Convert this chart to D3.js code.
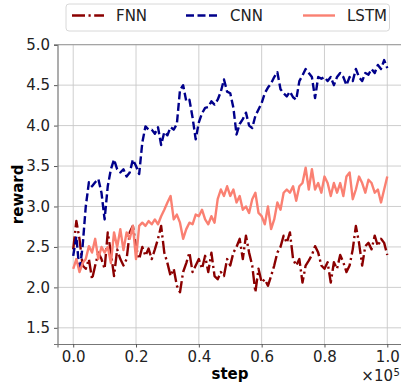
<!DOCTYPE html>
<html>
<head>
<meta charset="utf-8">
<script src="https://cdn.jsdelivr.net/npm/d3@7/dist/d3.min.js"></script>
<style>
  body { margin: 0; background: white; }
  svg { font-family: "DejaVu Sans", sans-serif; }
</style>
</head>
<body>
<div id="chart"></div>
<script>
// steps in units of 1e5
var steps = d3.range(0, 101).map(function(i){ return i / 100 })

var fnn = [2.47,2.82,2.6,2.27,2.23,2.35,2.1,2.27,2.43,2.35,
  2.23,2.68,2.43,2.14,2.47,2.35,2.27,2.35,2.68,2.76,
  2.5,2.35,2.5,2.39,2.48,2.35,2.47,2.6,2.76,2.43,
  2.3,2.14,2.23,2.02,1.94,2.19,2.3,2.43,2.19,2.27,
  2.35,2.23,2.39,2.19,2.43,2.14,2.1,2.19,2.14,2.35,
  2.27,2.43,2.5,2.6,2.35,2.64,2.43,2.27,1.94,2.23,
  2.06,2.1,2.02,2.14,2.27,2.43,2.5,2.64,2.55,2.68,
  2.35,2.27,2.35,2.06,2.27,2.33,2.4,2.51,2.43,2.27,
  2.23,2.31,2.06,2.31,2.23,2.4,2.31,2.19,2.27,2.47,
  2.76,2.55,2.27,2.51,2.55,2.47,2.64,2.51,2.6,2.55,2.4]

var cnn = [2.39,2.63,2.19,2.51,3.0,3.3,3.25,3.3,3.34,3.17,
  2.84,3.25,3.46,3.58,3.46,3.42,3.46,3.37,3.42,3.58,
  3.5,3.4,3.79,3.99,3.95,3.95,3.9,3.98,3.76,3.92,
  3.88,3.98,3.95,4.02,4.44,4.5,4.3,4.32,4.1,3.83,
  4.04,4.15,4.22,4.23,4.3,4.26,4.32,4.42,4.57,4.42,
  4.4,4.22,3.89,4.02,4.08,4.16,4.0,3.97,4.12,4.2,
  4.28,4.4,4.47,4.52,4.6,4.66,4.45,4.4,4.36,4.42,
  4.35,4.32,4.55,4.62,4.7,4.65,4.6,4.34,4.6,4.58,
  4.6,4.55,4.6,4.5,4.6,4.65,4.6,4.5,4.6,4.55,
  4.7,4.6,4.55,4.65,4.63,4.7,4.65,4.75,4.7,4.81,4.71]

var lstm = [2.23,2.35,2.19,2.3,2.35,2.51,2.43,2.6,2.35,2.5,
  2.43,2.5,2.3,2.68,2.5,2.72,2.46,2.68,2.6,2.76,
  2.35,2.76,2.8,2.76,2.82,2.78,2.84,2.78,2.88,2.96,
  3.05,3.13,2.84,2.9,2.8,2.6,2.72,2.8,2.78,2.9,
  2.88,2.96,2.84,2.78,2.88,2.8,3.09,3.21,3.13,3.25,
  3.13,3.21,3.05,3.13,2.96,3.0,2.92,3.09,3.17,2.92,
  2.88,2.78,3.0,2.72,2.84,3.05,2.96,3.17,3.21,3.17,
  3.25,3.07,3.25,3.29,3.48,3.21,3.46,3.21,3.29,3.17,
  3.37,3.29,3.13,3.29,3.17,3.29,3.13,3.37,3.42,3.09,
  3.21,3.37,3.29,3.17,3.33,3.29,3.17,3.21,3.05,3.21,3.37]

var seriesNames = ['FNN', 'CNN', 'LSTM']
var seriesData = [fnn, cnn, lstm]
var seriesColors = ['#8b0000', '#00008b', '#fa8072']
var seriesDash = ['13 3.5 2.2 3.5', '8 3.5', null]

var xTicks = [0.0, 0.2, 0.4, 0.6, 0.8, 1.0]
var yTicks = [1.5, 2.0, 2.5, 3.0, 3.5, 4.0, 4.5, 5.0]

var width = 401, height = 388
var margin = {left: 57.5, top: 44.7, right: 403, bottom: 344}

var svg = d3.select('#chart').append('svg')
  .attr('width', width)
  .attr('height', height)

var x = d3.scaleLinear().domain([-0.05, 1.05]).range([margin.left, margin.right])
var y = d3.scaleLinear().domain([1.3, 5.0]).range([margin.bottom, margin.top])

// grid
svg.append('g').selectAll('line').data(xTicks).enter().append('line')
  .attr('x1', function(d){ return x(d) }).attr('x2', function(d){ return x(d) })
  .attr('y1', margin.top).attr('y2', margin.bottom)
  .style('stroke', '#c8c8c8').style('stroke-width', 0.9)
svg.append('g').selectAll('line').data(yTicks).enter().append('line')
  .attr('y1', function(d){ return y(d) }).attr('y2', function(d){ return y(d) })
  .attr('x1', margin.left).attr('x2', margin.right)
  .style('stroke', '#c8c8c8').style('stroke-width', 0.9)

svg.append('defs').append('clipPath').attr('id', 'clip')
  .append('rect')
  .attr('x', margin.left).attr('y', margin.top)
  .attr('width', margin.right - margin.left).attr('height', margin.bottom - margin.top)

var line = d3.line()
  .x(function(d, i){ return x(steps[i]) })
  .y(function(d){ return y(d) })

var lines = svg.append('g').attr('clip-path', 'url(#clip)')
seriesData.forEach(function(s, i){
  lines.append('path')
    .datum(s)
    .attr('d', line)
    .style('fill', 'none')
    .style('stroke', seriesColors[i])
    .style('stroke-width', 2.4)
    .style('stroke-linejoin', 'round')
    .style('stroke-dasharray', seriesDash[i])
})

// axes
var xAxis = svg.append('g').attr('transform', 'translate(0,' + margin.bottom + ')')
  .call(d3.axisBottom(x).tickValues(xTicks).tickFormat(d3.format('.1f')).tickSizeOuter(0).tickSize(3.5).tickPadding(4))
var yAxis = svg.append('g').attr('transform', 'translate(' + margin.left + ',0)')
  .call(d3.axisLeft(y).tickValues(yTicks).tickFormat(d3.format('.1f')).tickSizeOuter(0).tickSize(3.5).tickPadding(4))

;[xAxis, yAxis].forEach(function(a){
  a.select('.domain').style('stroke', '#777').style('stroke-width', 1.2)
  a.selectAll('.tick line').style('stroke', '#555')
  a.selectAll('text').style('font-size', '15px').style('fill', '#222')
    .style('font-family', '"DejaVu Sans", sans-serif')
})

// top spine
svg.append('line')
  .attr('x1', margin.left).attr('x2', margin.right)
  .attr('y1', margin.top).attr('y2', margin.top)
  .style('stroke', '#999').style('stroke-width', 1)

svg.append('text').text('step')
  .attr('x', 230).attr('y', 379)
  .attr('text-anchor', 'middle')
  .style('font-size', '15px').style('font-weight', 'bold')

svg.append('text').text('reward')
  .attr('transform', 'translate(23,' + ((margin.top + margin.bottom) / 2) + ') rotate(-90)')
  .attr('text-anchor', 'middle')
  .style('font-size', '15px').style('font-weight', 'bold')

// scale factor text (×10^5)
svg.append('text').text('×10')
  .attr('x', 393).attr('y', 381)
  .attr('text-anchor', 'end')
  .style('font-size', '15px').style('fill', '#222')
svg.append('text').text('5')
  .attr('x', 393.5).attr('y', 376)
  .style('font-size', '10px').style('fill', '#222')

// legend
var legend = svg.append('g').attr('class', 'legend')
legend.append('rect')
  .attr('x', 66).attr('y', 4).attr('width', 323.5).attr('height', 27)
  .attr('rx', 3)
  .style('fill', 'white').style('stroke', '#d8d8d8').style('stroke-width', 1)

var legendX = [72, 186, 303]
seriesNames.forEach(function(n, i){
  legend.append('line')
    .attr('x1', legendX[i]).attr('x2', legendX[i] + 32)
    .attr('y1', 15.5).attr('y2', 15.5)
    .style('stroke', seriesColors[i])
    .style('stroke-width', 2.4)
    .style('stroke-dasharray', seriesDash[i])
  legend.append('text').text(n)
    .attr('x', legendX[i] + 44).attr('y', 21)
    .style('font-size', '15px').style('fill', '#222')
})
</script>
</body>
</html>
